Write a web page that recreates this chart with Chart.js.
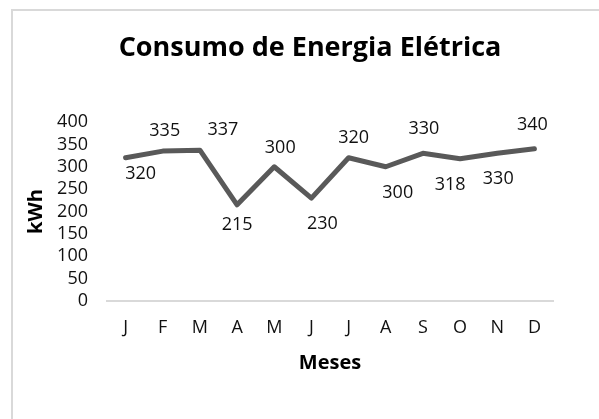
<!DOCTYPE html>
<html>
<head>
<meta charset="utf-8">
<script src="https://cdn.jsdelivr.net/npm/chart.js@4/dist/chart.umd.min.js"></script>
<style>
  html, body { margin: 0; padding: 0; background: #fff; }
  #wrap { position: relative; width: 599px; height: 419px; overflow: hidden; }
  #frame { position: absolute; left: 11px; top: 9px; width: 700px; height: 500px;
           border-left: 2px solid #d9d9d9; border-top: 2px solid #d9d9d9; box-sizing: border-box; }
  canvas { position: absolute; left: 0; top: 0; }
</style>
</head>
<body>
<div id="wrap">
  <div id="frame"></div>
  <canvas id="c" width="599" height="419"></canvas>
</div>
<script>
const chartTitle = 'Consumo de Energia Elétrica';
const xTitle = 'Meses';
const yTitle = 'kWh';
const months = ['J', 'F', 'M', 'A', 'M', 'J', 'J', 'A', 'S', 'O', 'N', 'D'];
const consumption = [320, 335, 337, 215, 300, 230, 320, 300, 330, 318, 330, 340];
const yTicks = [0, 50, 100, 150, 200, 250, 300, 350, 400];

const FONT = '"Open Sans", "DejaVu Sans", sans-serif';
const TEXT = '#111111';

// label placement relative to each point (pixels)
const labelOffsets = [[15,16],[2,-20],[23,-20],[0,20],[6,-19],[11,26],[5,-20],[12,26],[1,-24],[-10,26],[1,26],[-2,-24]];

const labelsPlugin = {
  id: 'pointLabels',
  afterDatasetsDraw(chart) {
    const ctx = chart.ctx;
    const meta = chart.getDatasetMeta(0);
    ctx.save();
    ctx.font = '18px ' + FONT;
    ctx.fillStyle = TEXT;
    ctx.textAlign = 'center';
    ctx.textBaseline = 'middle';
    meta.data.forEach((pt, i) => {
      const o = labelOffsets[i];
      ctx.fillText(String(chart.data.datasets[0].data[i]), pt.x + o[0], pt.y + o[1]);
    });
    ctx.restore();
  }
};

const titlePlugin = {
  id: 'customTitle',
  afterDraw(chart) {
    const ctx = chart.ctx;
    ctx.save();
    ctx.font = 'bold 27px ' + FONT;
    ctx.fillStyle = '#000';
    ctx.textAlign = 'center';
    ctx.textBaseline = 'middle';
    ctx.fillText(chartTitle, 310, 48);
    ctx.restore();
  }
};

new Chart(document.getElementById('c'), {
  type: 'line',
  data: {
    labels: months,
    datasets: [{
      data: consumption,
      borderColor: '#595959',
      borderWidth: 5,
      pointRadius: 0,
      pointHoverRadius: 0,
      tension: 0,
      fill: false,
      borderJoinStyle: 'round',
      borderCapStyle: 'round'
    }]
  },
  options: {
    responsive: false,
    animation: false,
    events: [],
    layout: { padding: { left: 20, right: 46, top: 122, bottom: 38 } },
    plugins: { legend: { display: false }, tooltip: { enabled: false }, title: { display: false } },
    scales: {
      x: {
        offset: true,
        grid: { display: false, drawTicks: false },
        border: { display: true, color: '#d9d9d9', width: 2 },
        ticks: { color: TEXT, font: { family: FONT, size: 18 }, padding: 16, maxRotation: 0, autoSkip: false },
        title: { display: true, text: xTitle, color: '#000', font: { family: FONT, size: 20, weight: 'bold' }, padding: { top: 0, bottom: 6 } },
        afterFit(scale) { scale.height = 80; }
      },
      y: {
        min: 0, max: 400,
        afterBuildTicks(scale) { scale.ticks = yTicks.map(v => ({ value: v })); },
        grid: { display: false, drawTicks: false },
        border: { display: false },
        ticks: { color: TEXT, font: { family: FONT, size: 18, lineHeight: 1 }, padding: 19, autoSkip: false },
        title: { display: true, text: yTitle, color: '#000', font: { family: FONT, size: 20, weight: 'bold' }, padding: { top: 4, bottom: 0 } },
        afterFit(scale) { scale.width = 87; }
      }
    }
  },
  plugins: [labelsPlugin, titlePlugin]
});
</script>
</body>
</html>
